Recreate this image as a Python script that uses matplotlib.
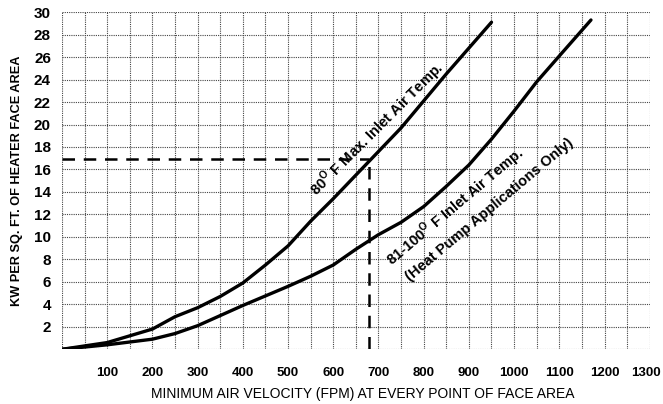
import numpy as np
import matplotlib.pyplot as plt
from matplotlib.transforms import ScaledTranslation

plt.rcParams['font.family'] = ['Liberation Sans Narrow', 'Liberation Sans', 'DejaVu Sans']
plt.rcParams['mathtext.fontset'] = 'custom'
plt.rcParams['mathtext.rm'] = 'Liberation Sans:bold'
plt.rcParams['mathtext.bf'] = 'Liberation Sans:bold'

# 80 F max inlet air temp curve
vel_80 = [0, 100, 200, 250, 300, 350, 400, 450, 500, 550, 600, 650, 700, 750, 800, 850, 900, 950]
kw_80 = [0, 0.6, 1.8, 2.9, 3.7, 4.7, 5.9, 7.5, 9.2, 11.4, 13.4, 15.5, 17.6, 19.7, 22.1, 24.5, 26.8, 29.1]

# 81-100 F inlet air temp curve
vel_100 = [0, 100, 200, 250, 300, 400, 500, 550, 600, 650, 700, 750, 800, 850, 900, 950, 1000, 1050, 1100, 1170]
kw_100 = [0, 0.4, 0.9, 1.4, 2.1, 3.9, 5.6, 6.5, 7.5, 8.9, 10.2, 11.3, 12.7, 14.5, 16.4, 18.7, 21.2, 23.8, 26.1, 29.3]

# example reading
ex_vel = 678
ex_kw = 16.9

x_ticks = list(range(100, 1400, 100))
y_ticks = list(range(2, 32, 2))

fig = plt.figure(figsize=(6.63, 4.04), dpi=100)
ax = fig.add_axes([0.0935, 0.1354, 0.8865, 0.8346])

ax.plot(vel_80, kw_80, color='black', lw=2.4, solid_capstyle='round', zorder=3)
ax.plot(vel_100, kw_100, color='black', lw=2.4, solid_capstyle='round', zorder=3)

ax.plot([0, ex_vel], [ex_kw, ex_kw], color='black', lw=1.8, dashes=(5, 3.5), zorder=3)
ax.plot([ex_vel, ex_vel], [0, ex_kw], color='black', lw=1.8, dashes=(5, 3.5), zorder=3)

note_font = ['Liberation Sans', 'DejaVu Sans']
ax.text(698, 19.6, r'80$^{\mathrm{O}}$ F Max. Inlet Air Temp.', rotation=45,
        rotation_mode='anchor', ha='center', va='center', fontsize=10.5,
        fontweight='bold', family=note_font)
ax.text(870, 12.7, r'81-100$^{\mathrm{O}}$ F Inlet Air Temp.', rotation=40,
        rotation_mode='anchor', ha='center', va='center', fontsize=10.5,
        fontweight='bold', family=note_font)
ax.text(945, 12.4, '(Heat Pump Applications Only)', rotation=40,
        rotation_mode='anchor', ha='center', va='center', fontsize=10.5,
        fontweight='bold', family=note_font)

ax.set_xlim(0, 1300)
ax.set_ylim(0, 30)
ax.set_xticks(x_ticks)
ax.set_yticks(y_ticks)
ax.set_xticklabels([str(v) for v in x_ticks], fontweight='bold', fontsize=9.5,
                   family=note_font)
ax.set_yticklabels([str(v) for v in y_ticks], fontweight='bold', fontsize=11)
ax.set_xticks(np.arange(0, 1301, 50), minor=True)
ax.set_yticks(np.arange(0, 31, 2), minor=True)
ax.tick_params(which='both', length=0)
ax.tick_params(axis='x', pad=13)
ax.tick_params(axis='y', pad=8)
ax.grid(which='both', color='#444444', lw=0.8, ls=(0, (1, 1)))
for s in ax.spines.values():
    s.set_visible(False)

# keep the last label inside the figure
last = ax.get_xticklabels()[-1]
last.set_transform(last.get_transform() + ScaledTranslation(-4 / 100, 0, fig.dpi_scale_trans))

ax.set_xlabel('MINIMUM AIR VELOCITY (FPM) AT EVERY POINT OF FACE AREA',
              fontsize=10, family=note_font)
ax.xaxis.set_label_coords(0.512, -0.112)
ax.set_ylabel('KW PER SQ. FT. OF HEATER FACE AREA', fontsize=9.2,
              fontweight='bold', labelpad=8)

fig.savefig('out.png', dpi=100)
